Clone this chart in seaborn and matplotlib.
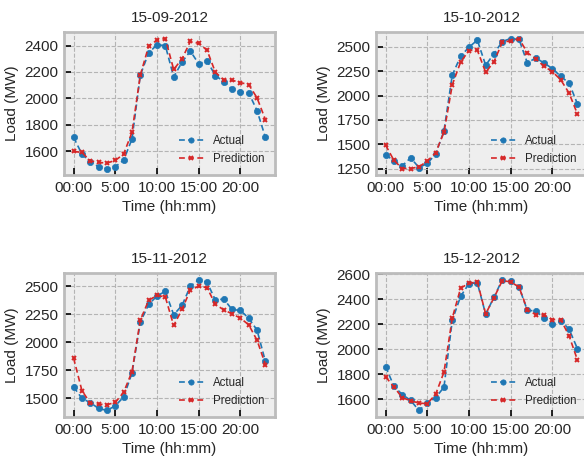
import numpy as np
import pandas as pd
import matplotlib
matplotlib.use("Agg")
import matplotlib.pyplot as plt
from matplotlib.ticker import MultipleLocator
import seaborn as sns

hours = list(range(24))
tick_pos = [0, 5, 10, 15, 20]
tick_labels = ["00:00", "5:00", "10:00", "15:00", "20:00"]

titles = ["15-09-2012", "15-10-2012", "15-11-2012", "15-12-2012"]
y_steps = [200, 250, 250, 200]

actual_sep = [1706, 1580, 1519, 1486, 1471, 1484, 1534, 1693, 2176, 2345, 2405, 2400,
              2163, 2274, 2358, 2262, 2284, 2173, 2128, 2070, 2052, 2042, 1908, 1706]
pred_sep = [1600, 1592, 1529, 1517, 1512, 1532, 1580, 1744, 2176, 2395, 2441, 2453,
            2219, 2299, 2431, 2416, 2365, 2198, 2140, 2138, 2120, 2105, 2004, 1840]

actual_oct = [1391, 1329, 1278, 1360, 1260, 1302, 1398, 1636, 2211, 2404, 2497, 2569,
              2311, 2431, 2555, 2586, 2576, 2335, 2386, 2335, 2276, 2197, 2128, 1915]
pred_oct = [1491, 1333, 1250, 1250, 1267, 1326, 1412, 1622, 2111, 2345, 2462, 2466,
            2238, 2348, 2548, 2562, 2583, 2441, 2376, 2300, 2245, 2162, 2025, 1811]

actual_nov = [1602, 1500, 1461, 1410, 1392, 1434, 1512, 1725, 2180, 2338, 2413, 2455,
              2246, 2329, 2500, 2560, 2536, 2377, 2386, 2293, 2284, 2216, 2108, 1829]
pred_nov = [1859, 1569, 1458, 1449, 1443, 1464, 1554, 1737, 2198, 2374, 2419, 2404,
            2150, 2293, 2467, 2500, 2488, 2338, 2290, 2254, 2216, 2156, 2018, 1802]

actual_dec = [1861, 1705, 1638, 1592, 1511, 1570, 1613, 1697, 2234, 2423, 2525, 2530,
              2280, 2417, 2557, 2544, 2497, 2310, 2307, 2248, 2202, 2228, 2161, 2005]
pred_dec = [1780, 1699, 1613, 1589, 1570, 1565, 1640, 1817, 2250, 2489, 2527, 2538,
            2283, 2412, 2549, 2538, 2497, 2315, 2277, 2274, 2237, 2237, 2108, 1915]

series = [(actual_sep, pred_sep), (actual_oct, pred_oct),
          (actual_nov, pred_nov), (actual_dec, pred_dec)]

sns.set_style("darkgrid", {
    "axes.facecolor": "#eeeeee",
    "axes.edgecolor": "#bcbcbc",
    "grid.color": "#b4b4b4",
    "grid.linestyle": "--",
})
plt.rcParams["font.family"] = ["Liberation Sans", "DejaVu Sans"]
plt.rcParams["axes.linewidth"] = 2.0
plt.rcParams["grid.linewidth"] = 0.8

fig = plt.figure(figsize=(5.84, 4.58), dpi=100)
W, H = 584, 458
boxes = [(64, 32, 211, 143), (376, 32, 211, 143),
         (64, 273, 211, 144), (376, 273, 211, 144)]

blue = "#1f77b4"
red = "#d62728"
for (x0, y0, w, h), title, step, (act, pred) in zip(boxes, titles, y_steps, series):
    ax = fig.add_axes([x0 / W, 1 - (y0 + h) / H, w / W, h / H])
    df = pd.DataFrame({"hour": hours, "Actual": act, "Prediction": pred})
    sns.lineplot(data=df, x="hour", y="Actual", ax=ax, color=blue,
                 linestyle=(0, (3.5, 2)), marker="o", markersize=4.5,
                 markeredgecolor=blue, markeredgewidth=0.5,
                 linewidth=1.2, label="Actual")
    sns.lineplot(data=df, x="hour", y="Prediction", ax=ax, color=red,
                 linestyle=(0, (3.5, 2)), marker="x", markersize=3.5,
                 markeredgecolor=red, markeredgewidth=1.4,
                 linewidth=1.2, label="Prediction")
    ax.set_xticks(tick_pos)
    ax.set_xticklabels(tick_labels)
    ax.yaxis.set_major_locator(MultipleLocator(step))
    ax.tick_params(labelsize=11, pad=4, direction="in", length=5, width=1.2,
                   color="black", bottom=True, left=True)
    ax.set_title(title, fontsize=11, pad=7)
    ax.set_xlabel("Time (hh:mm)", fontsize=11)
    ax.set_ylabel("Load (MW)", fontsize=11)
    ax.margins(x=0.05, y=0.05)
    ax.legend(loc="lower right", frameon=False, fontsize=8.3,
              handlelength=2.2, markerscale=0.85)

fig.savefig("out.png", dpi=100)
